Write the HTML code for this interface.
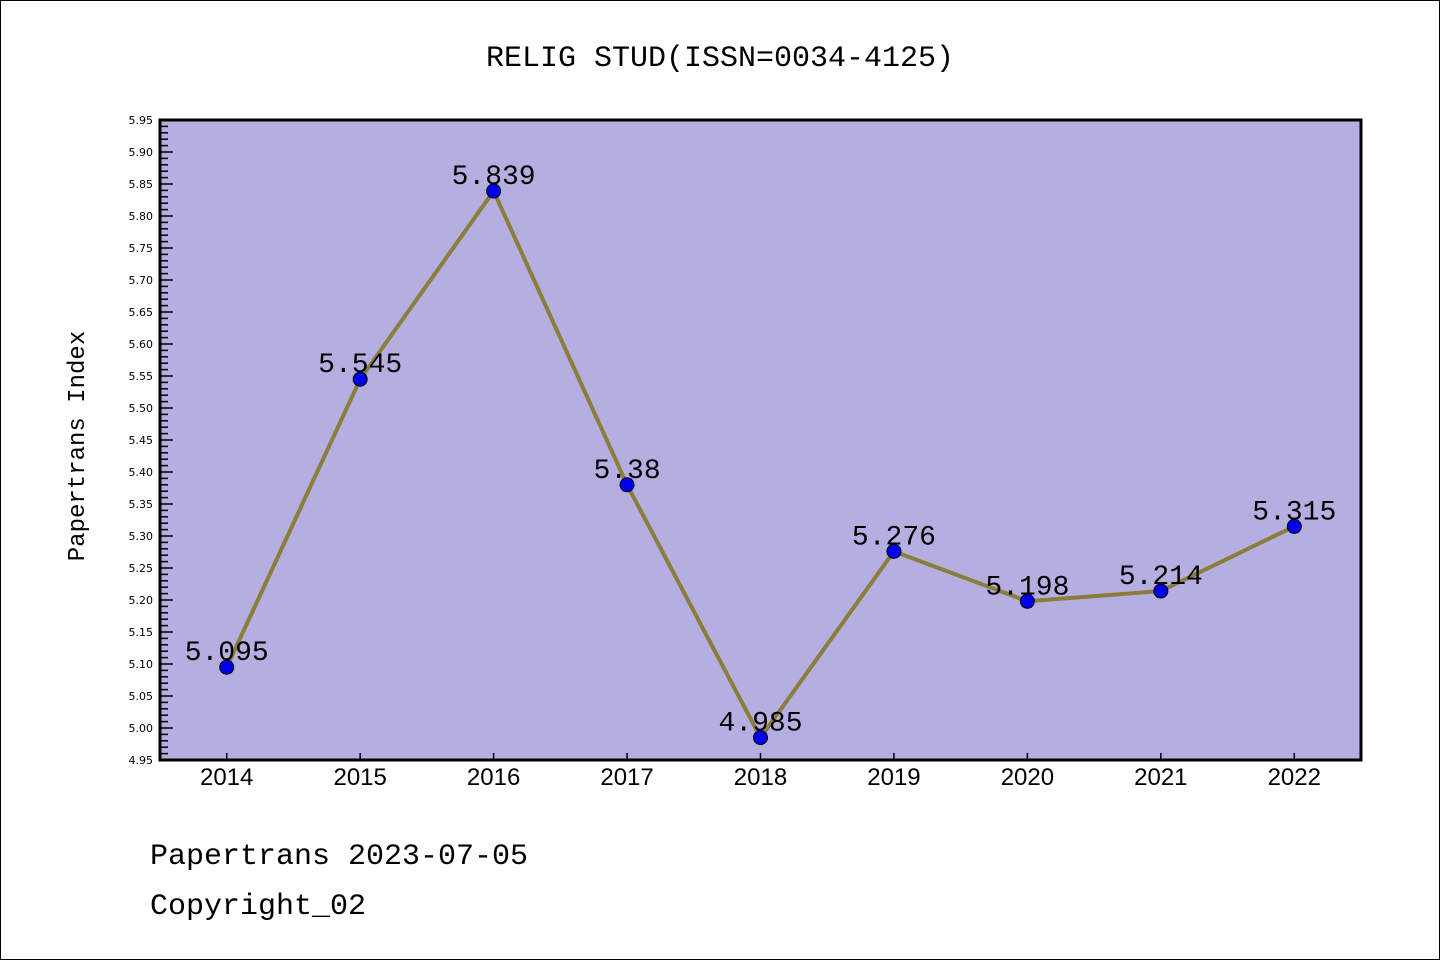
<!DOCTYPE html>
<html><head><meta charset="utf-8"><style>
body{margin:0;background:#fff}
svg{display:block}
text{font-family:"Liberation Mono","WenQuanYi Zen Hei",monospace}
</style></head><body>
<svg id="c" width="1440" height="960" xmlns="http://www.w3.org/2000/svg">
<rect x="0.5" y="0.5" width="1439" height="959" fill="#fff" stroke="#000"/>
<text x="720" y="66" font-size="30" text-anchor="middle">RELIG STUD(ISSN=0034-4125)</text>
<rect x="160" y="120" width="1201" height="640" fill="#b5aee1"/>
<g id="ticks"></g>
<g id="series"></g>
<rect x="160" y="120" width="1201" height="640" fill="none" stroke="#000" stroke-width="3"/>
<text transform="translate(84,446) rotate(-90)" font-size="24" text-anchor="middle">Papertrans Index</text>
<text x="150" y="864" font-size="30">Papertrans 2023-07-05</text>
<text x="150" y="914" font-size="30">Copyright_02</text>
</svg>
<script>
const categories=["2014","2015","2016","2017","2018","2019","2020","2021","2022"];
const values=[5.095,5.545,5.839,5.38,4.985,5.276,5.198,5.214,5.315];
const valueLabels=["5.095","5.545","5.839","5.38","4.985","5.276","5.198","5.214","5.315"];
const yTickLabels=["4.95","5.00","5.05","5.10","5.15","5.20","5.25","5.30","5.35","5.40","5.45","5.50","5.55","5.60","5.65","5.70","5.75","5.80","5.85","5.90","5.95"];
const NS="http://www.w3.org/2000/svg";
const L=160,R=1361,T=120,B=760,ymin=4.95,ymax=5.95;
const band=(R-L)/categories.length;
const xs=i=>L+band*(i+0.5);
const ys=v=>B-(v-ymin)/(ymax-ymin)*(B-T);
function mk(tag,a,p){const e=document.createElementNS(NS,tag);for(const k in a)e.setAttribute(k,a[k]);p.appendChild(e);return e;}
const tg=document.getElementById('ticks');
for(let k=0;k<=100;k++){
  const v=ymin+k*0.01,y=ys(v),maj=k%5===0;
  const t=mk('line',{x1:L,x2:L+(maj?13:8),y1:y,y2:y,stroke:'#000','stroke-width':1.5},tg);
  
  
}
yTickLabels.forEach(s=>{
  const t=mk('text',{x:153,y:ys(parseFloat(s))+4,'font-size':11,'text-anchor':'end',style:'font-family:"DejaVu Sans",sans-serif'},tg);
  t.textContent=s;
  
  
});
categories.forEach((c,i)=>{
  const t=mk('line',{x1:xs(i),x2:xs(i),y1:B,y2:B-7,stroke:'#000','stroke-width':1.5},tg);
  
  
  const l=mk('text',{x:xs(i),y:785,'font-size':24,'text-anchor':'middle',style:'font-family:"Liberation Sans",sans-serif'},tg);
  l.textContent=c;
  
  
});
const sg=document.getElementById('series');
const pl=mk('polyline',{points:values.map((v,i)=>xs(i)+','+ys(v)).join(' '),fill:'none',stroke:'#8b7d3a','stroke-width':4},sg);


values.forEach((v,i)=>{
  const c=mk('circle',{cx:xs(i),cy:ys(v),r:7,fill:'#0000ee',stroke:'#000','stroke-width':1},sg);
  
  
  const t=mk('text',{x:xs(i),y:ys(v)-7,'font-size':28,'text-anchor':'middle'},sg);
  t.textContent=valueLabels[i];
  
  
});
</script>
</body></html>
